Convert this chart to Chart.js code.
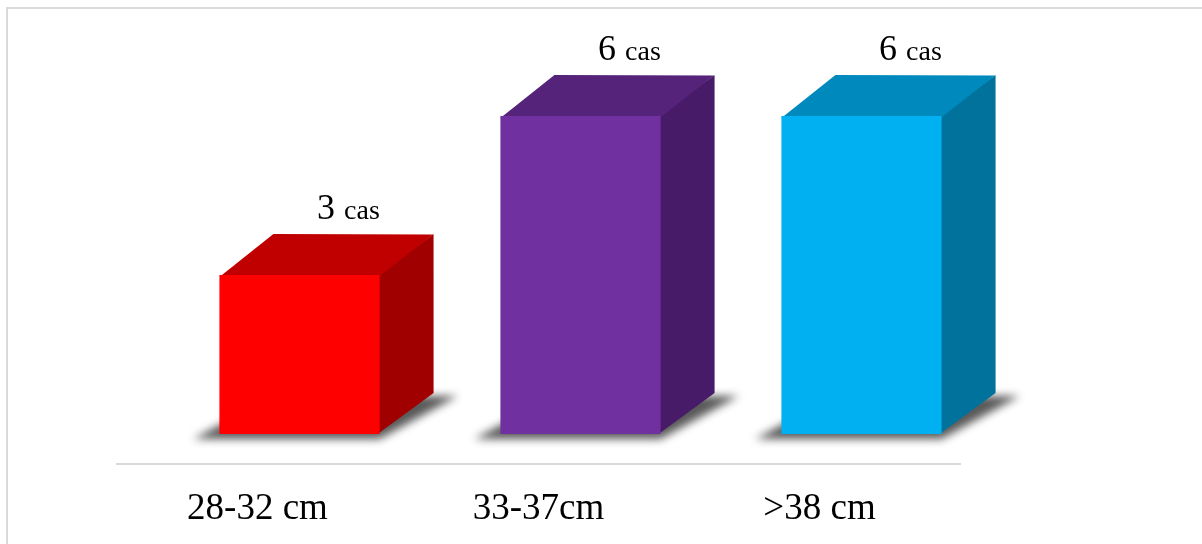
<!DOCTYPE html>
<html>
<head>
<meta charset="utf-8">
<script src="https://cdn.jsdelivr.net/npm/chart.js"></script>
<style>
  body { margin: 0; background: #fff; }
  #wrap { position: relative; width: 1202px; height: 544px; overflow: hidden; }
  #frame { position: absolute; left: 6px; top: 7px; width: 1300px; height: 700px;
           border-left: 2px solid #dadada; border-top: 2px solid #dadada; }
  canvas { position: absolute; left: 0; top: 0; }
</style>
</head>
<body>
<div id="wrap">
  <div id="frame"></div>
  <canvas id="bar-chart" width="1202" height="544"></canvas>
</div>
<script>
const categories = ['28-32 cm', '33-37cm', '>38 cm'];
const cases = [3, 6, 6];
const unitLabel = 'cas';
const frontColors = ['#FF0000', '#7030A0', '#00B0F0'];
const topColors = ['#C00000', '#55237A', '#0089BD'];
const sideColors = ['#A00000', '#481B69', '#00729C'];

// 3d look: how far the bar sits behind the axis, and the depth of a box
const shiftX = 42, shiftY = -30;
const depthX = 54, depthY = -41;

const bars3d = {
  id: 'bars3d',
  afterDatasetsDraw(chart) {
    const ctx = chart.ctx;
    const meta = chart.getDatasetMeta(0);
    const faces = meta.data.map(function(bar) {
      const half = bar.width / 2;
      return { l: bar.x - half + shiftX, r: bar.x + half + shiftX, t: bar.y + shiftY, b: bar.base + shiftY };
    });

    // soft shadow under each box
    ctx.save();
    ctx.filter = 'blur(4px)';
    ctx.fillStyle = 'rgba(0,0,0,0.65)';
    faces.forEach(function(f) {
      ctx.beginPath();
      ctx.moveTo(f.l - 26, f.b + 5);
      ctx.lineTo(f.r, f.b + 5);
      ctx.lineTo(f.r + depthX + 24, f.b + depthY + 3);
      ctx.lineTo(f.l + depthX, f.b + depthY + 3);
      ctx.closePath();
      ctx.fill();
    });
    ctx.restore();

    faces.forEach(function(f, i) {
      ctx.save();
      // side and top first, a little oversized, so the front hides the seams
      ctx.fillStyle = sideColors[i];
      ctx.beginPath();
      ctx.moveTo(f.r - 2, f.t);
      ctx.lineTo(f.r + depthX, f.t + depthY);
      ctx.lineTo(f.r + depthX, f.b + depthY);
      ctx.lineTo(f.r - 2, f.b);
      ctx.closePath();
      ctx.fill();

      ctx.fillStyle = topColors[i];
      ctx.beginPath();
      ctx.moveTo(f.l, f.t + 2);
      ctx.lineTo(f.r - 1, f.t + 2);
      ctx.lineTo(f.r + depthX - 0.6, f.t + depthY + 0.6);
      ctx.lineTo(f.l + depthX, f.t + depthY);
      ctx.closePath();
      ctx.fill();

      ctx.fillStyle = frontColors[i];
      ctx.fillRect(f.l, f.t, f.r - f.l, f.b - f.t);

      // value label: big number, smaller unit
      const num = String(cases[i]) + ' ';
      ctx.fillStyle = '#000';
      ctx.textBaseline = 'alphabetic';
      ctx.textAlign = 'left';
      ctx.font = '36px "Liberation Serif"';
      const w1 = ctx.measureText(num).width;
      ctx.font = '28px "Liberation Serif"';
      const w2 = ctx.measureText(unitLabel).width;
      const cx = (f.l + f.r) / 2 + 49;
      const by = f.t + depthY - 15;
      const x0 = cx - (w1 + w2) / 2;
      ctx.font = '36px "Liberation Serif"';
      ctx.fillText(num, x0, by);
      ctx.font = '28px "Liberation Serif"';
      ctx.fillText(unitLabel, x0 + w1, by);
      ctx.restore();
    });
  }
};

var ctx = document.getElementById('bar-chart').getContext('2d');
var myChart = new Chart(ctx, {
  type: 'bar',
  data: {
    labels: categories,
    datasets: [{
      data: cases,
      backgroundColor: 'rgba(0,0,0,0)',
      borderWidth: 0,
      categoryPercentage: 1,
      barPercentage: 0.57
    }]
  },
  options: {
    responsive: false,
    animation: false,
    layout: { padding: { left: 117, right: 242, top: 40, bottom: 0 } },
    plugins: {
      legend: { display: false },
      tooltip: { enabled: false }
    },
    scales: {
      x: {
        grid: { display: false, drawTicks: false },
        border: { display: true, color: '#d9d9d9', width: 2 },
        ticks: {
          color: '#000',
          font: { family: '"Liberation Serif"', size: 37 },
          padding: 23
        },
        afterFit: function(scale) { scale.height = 80; }
      },
      y: { display: false, min: 0, max: 8 }
    }
  },
  plugins: [bars3d]
});
</script>
</body>
</html>
